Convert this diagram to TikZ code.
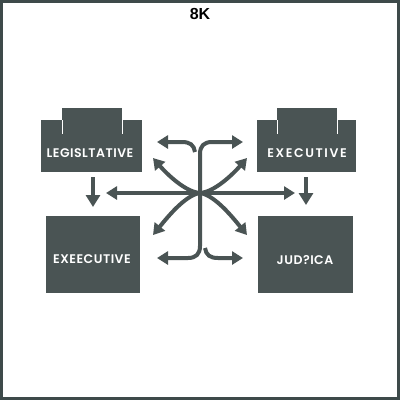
\documentclass[tikz,border=0pt]{standalone}
\usepackage{fontspec}
\setmainfont{Poppins}
\newfontfamily\lblfont{Poppins SemiBold}
\newfontfamily\titlefont{Liberation Sans}
\usetikzlibrary{arrows.meta}
\definecolor{slate}{HTML}{4A5454}
\definecolor{framec}{HTML}{3E4A4A}
\tikzset{
  boxbody/.style={fill=slate, draw=none, inner sep=0pt, outer sep=0pt},
  lbl/.style={text=white, inner sep=0pt, font=\lblfont\fontsize{12.5}{14}\selectfont\addfontfeatures{LetterSpace=4}},
  tabline/.style={draw=white, line width=0.8pt},
  arr/.style={draw=slate, line width=4pt, -{Triangle[width=13pt,length=11pt]}},
  darr/.style={draw=slate, line width=4pt, {Triangle[width=13pt,length=11pt]}-{Triangle[width=13pt,length=11pt]}},
}
\begin{document}
\begin{tikzpicture}[x=1pt,y=-1pt]
\useasboundingbox (0,0) rectangle (400,400);
\fill[white] (0,0) rectangle (400,400);
\draw[framec, line width=3pt] (1.5,1.5) rectangle (398.5,398.5);

\node[font=\titlefont\bfseries\fontsize{16}{18}\selectfont, inner sep=0pt] (title) at (200,14) {8K};

% top-left legislative
\node[boxbody, minimum width=60pt, minimum height=26pt] (legtab) at (92,121) {};
\node[boxbody, minimum width=101pt, minimum height=52pt] (leg) at (91.5,146) {};
\draw[tabline] (legtab.south west |- leg.north) -- (legtab.south west);
\draw[tabline] (legtab.south east |- leg.north) -- (legtab.south east);
\node[lbl] (legl) at (90,153) {LEGISLTATIVE};

% top-right executive
\node[boxbody, minimum width=60pt, minimum height=26pt] (extab) at (307,121) {};
\node[boxbody, minimum width=99pt, minimum height=52pt] (ex) at (306.5,146) {};
\draw[tabline] (extab.south west |- ex.north) -- (extab.south west);
\draw[tabline] (extab.south east |- ex.north) -- (extab.south east);
\node[lbl, font=\lblfont\fontsize{12.5}{14}\selectfont\addfontfeatures{LetterSpace=13}] (exl) at (307,153) {EXECUTIVE};

% bottom boxes
\node[boxbody, minimum width=94pt, minimum height=77pt] (bl) at (93,254.5) {};
\node[lbl] (bll) at (92,259) {EXEECUTIVE};
\node[boxbody, minimum width=95pt, minimum height=77pt] (br) at (305.5,254.5) {};
\node[lbl] (brl) at (305,260) {JUD?ICA};

% down arrows
\coordinate (d1s) at (93,177);
\coordinate (d1e) at (93,207);
\coordinate (d2s) at (306,177);
\coordinate (d2e) at (306,205);
\draw[arr, -{Triangle[width=14pt,length=12pt]}] (d1s) -- (d1e);
\draw[arr, -{Triangle[width=14pt,length=12pt]}] (d2s) -- (d2e);

% horizontal double arrow
\coordinate (hl) at (106,193);
\coordinate (hr) at (295,193);
\draw[darr] (hl) -- (hr);

% central arrows
\coordinate (c) at (200,193);
\coordinate (tl) at (157,142);
\coordinate (tr) at (243,142);
\coordinate (bl2) at (157,258);
\coordinate (br2) at (243,258);
\draw[darr] (bl2) -- (188,258) .. controls (196,258) and (200,254) .. (200,246)
  -- (200,154) .. controls (200,146) and (204,142) .. (212,142) -- (tr);
\draw[arr] (195,152) .. controls (194,145) and (190,142) .. (182,142) -- (tl);
\draw[arr] (205,248) .. controls (206,255) and (210,258) .. (218,258) -- (br2);

\draw[arr] (c) .. controls (185,192) and (166,173) .. (153,158);
\draw[arr] (c) .. controls (215,192) and (234,173) .. (247,158);
\draw[arr] (c) .. controls (185,195) and (166,219) .. (153,235);
\draw[arr] (c) .. controls (215,195) and (234,219) .. (247,235);
\end{tikzpicture}
\end{document}
